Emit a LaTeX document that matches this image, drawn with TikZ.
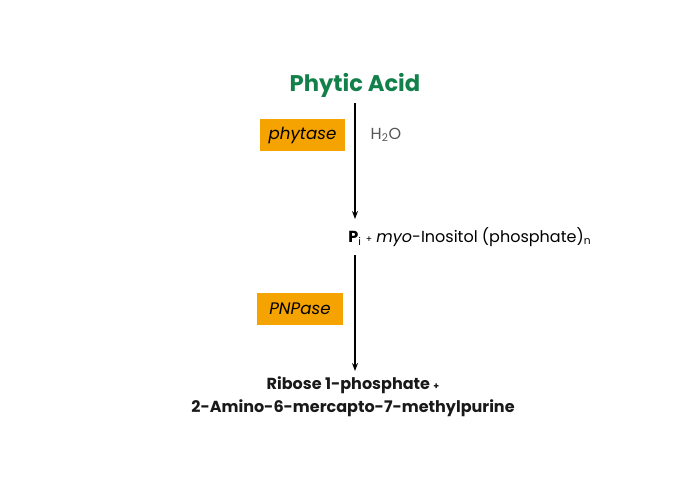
\documentclass[tikz,border=0pt]{standalone}
\usepackage{fontspec}
\setmainfont{Poppins}
\usetikzlibrary{arrows.meta}
\definecolor{pgreen}{HTML}{12804A}
\definecolor{porange}{HTML}{F5A300}
\definecolor{pgray}{HTML}{555555}
\begin{document}
\begin{tikzpicture}[x=0.75pt,y=-0.75pt,
  enz/.style={fill=porange,inner sep=0pt,minimum height=24pt,font=\fontsize{12.5}{14}\selectfont\itshape},
  arr/.style={-{Stealth[length=6pt,width=4.5pt]},line width=0.9pt},
  txt/.style={font=\fontsize{12}{17}\selectfont\bfseries,text=black!90,align=center}]
\useasboundingbox (0,0) rectangle (690,480);
\node[font=\fontsize{17}{20}\selectfont\bfseries,text=pgreen] (pa) at (355,85) {Phytic Acid};
\node[enz,minimum width=64pt] (phy) at (302.5,135) {phytase};
\node[anchor=west,text=pgray,font=\fontsize{12}{14}\selectfont] (h2o) at (366,135) {H\textsubscript{2}O};
\node[anchor=west,inner sep=0pt,font=\fontsize{12}{14}\selectfont] (pi) at (348,237) {\textbf{P}\textsubscript{i} {\scriptsize+} \textit{myo}-Inositol (phosphate)\textsubscript{n}};
\coordinate (top1) at (355,103);
\coordinate (end1) at (355,219);
\coordinate (top2) at (355,255);
\coordinate (end2) at (355,371);
\node[enz,minimum width=64pt] (pnp) at (300,309) {PNPase};
\node[txt] (prod) at (353,397) {Ribose 1-phosphate {\scriptsize+}\\2-Amino-6-mercapto-7-methylpurine};
\draw[arr] (top1) -- (end1);
\draw[arr] (top2) -- (end2);
\end{tikzpicture}
\end{document}
